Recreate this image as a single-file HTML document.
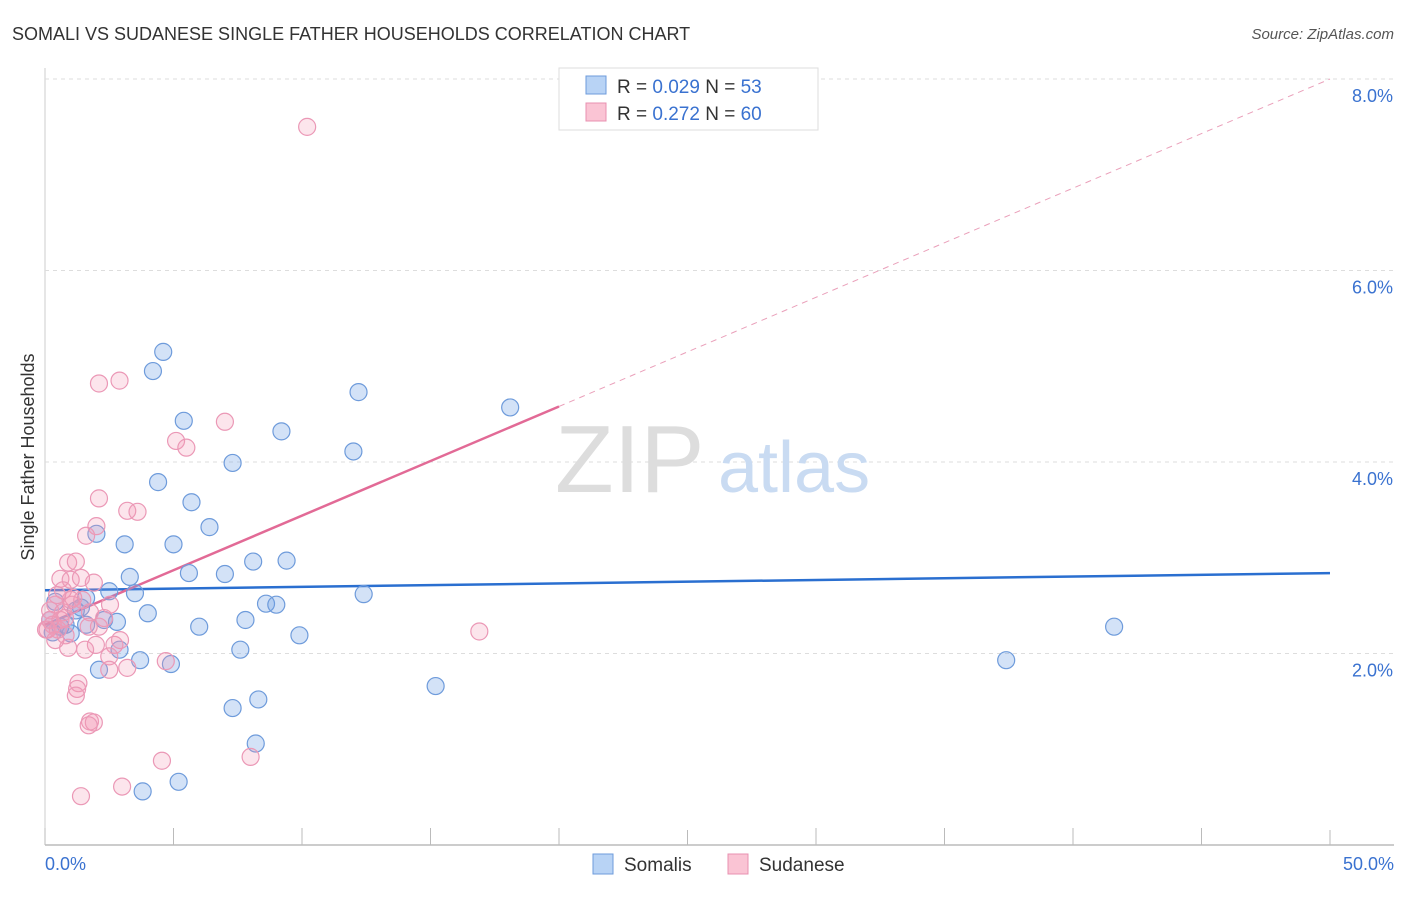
<!DOCTYPE html>
<html><head><meta charset="utf-8"><style>
body{margin:0;background:#fff;font-family:"Liberation Sans",sans-serif;}
svg text{font-family:"Liberation Sans",sans-serif;}
</style></head><body>
<svg width="1406" height="892" xmlns="http://www.w3.org/2000/svg" id="chart">
<text x="12" y="40" font-size="18" fill="#333">SOMALI VS SUDANESE SINGLE FATHER HOUSEHOLDS CORRELATION CHART</text>
<text x="1394" y="39" font-size="15" fill="#555" font-style="italic" text-anchor="end">Source: ZipAtlas.com</text>
<text x="34" y="457" font-size="18" fill="#333" text-anchor="middle" transform="rotate(-90 34 457)">Single Father Households</text>
<g id="grid"></g>
<g><text x="555" y="492" font-size="96" fill="#ddd" font-family="Liberation Serif,serif">ZIP</text><text x="718" y="492" font-size="72" fill="#c9dbf2">atlas</text></g>
<g id="trend"></g>
<g id="pts"></g>
<g>
<rect x="559" y="68" width="259" height="62" fill="#fff" stroke="#ddd"/>
<rect x="586" y="76" width="20" height="18" fill="#b8d3f5" stroke="#6e9bdb"/>
<rect x="586" y="103" width="20" height="18" fill="#fac4d4" stroke="#e890b0"/>
<text x="617" y="93" font-size="19" fill="#333">R = <tspan fill="#3a72d0">0.029</tspan>   N = <tspan fill="#3a72d0">53</tspan></text>
<text x="617" y="120" font-size="19" fill="#333">R = <tspan fill="#3a72d0"> 0.272</tspan>   N = <tspan fill="#3a72d0">60</tspan></text>
</g>
<g>
<rect x="593" y="854" width="20" height="20" fill="#b8d3f5" stroke="#6e9bdb"/>
<text x="624" y="871" font-size="19" fill="#333">Somalis</text>
<rect x="728" y="854" width="20" height="20" fill="#fac4d4" stroke="#e890b0"/>
<text x="759" y="871" font-size="19" fill="#333">Sudanese</text>
</g>
<text x="45" y="870" font-size="18" fill="#3a72d0">0.0%</text>
<text x="1394" y="870" font-size="18" fill="#3a72d0" text-anchor="end">50.0%</text>
</svg>
<script>
const yTicks=[2,4,6,8];
const blueX=[4.6,4.2,5.4,9.2,7.3,4.4,5.7,6.4,2.0,3.1,5.0,8.1,9.4,5.6,7.0,3.3,2.5,3.5,1.6,0.4,1.4,8.6,9.0,4.0,2.3,2.8,7.8,6.0,9.9,1.0,1.6,7.6,2.9,3.7,4.9,2.1,7.3,8.3,8.2,5.2,3.8,12.2,12.0,18.1,12.4,15.2,41.6,37.4,0.6,0.2,1.2,0.3,0.8];
const blueY=[5.15,4.95,4.43,4.32,3.99,3.79,3.58,3.32,3.25,3.14,3.14,2.96,2.97,2.84,2.83,2.80,2.65,2.63,2.58,2.54,2.48,2.52,2.51,2.42,2.35,2.33,2.35,2.28,2.19,2.21,2.30,2.04,2.04,1.93,1.89,1.83,1.43,1.52,1.06,0.66,0.56,4.73,4.11,4.57,2.62,1.66,2.28,1.93,2.28,2.35,2.45,2.22,2.30];
const pinkX=[10.2,2.9,2.1,7.0,5.1,5.5,2.1,3.2,3.6,2.0,1.6,0.9,1.2,0.6,1.0,1.9,1.4,0.7,1.1,0.4,0.7,0.2,0.1,0.3,0.5,0.8,1.05,1.75,2.3,2.1,1.7,2.7,1.98,0.9,2.5,3.2,2.5,4.7,16.9,1.3,1.25,1.2,1.75,1.9,1.7,4.55,8.0,3.0,1.4,0.04,0.4,0.6,1.0,0.2,0.47,1.45,2.53,0.78,1.56,2.92];
const pinkY=[7.50,4.85,4.82,4.42,4.22,4.15,3.62,3.49,3.48,3.33,3.23,2.95,2.96,2.78,2.77,2.74,2.79,2.66,2.58,2.51,2.43,2.35,2.25,2.30,2.25,2.19,2.51,2.43,2.37,2.28,2.28,2.09,2.09,2.06,1.97,1.85,1.83,1.92,2.23,1.69,1.63,1.56,1.29,1.28,1.25,0.88,0.92,0.61,0.51,2.25,2.14,2.35,2.56,2.45,2.61,2.56,2.51,2.37,2.04,2.14];
const blueTrend=[2.66,2.84];
const pinkTrend=[2.3,8.0];
const pinkSolidEnd=20;
const sx=v=>45+v*25.7, sy=v=>845-v*95.75;
const NS="http://www.w3.org/2000/svg";
function mk(t,a,p){const e=document.createElementNS(NS,t);for(const k in a)e.setAttribute(k,a[k]);p.appendChild(e);return e;}
const grid=document.getElementById('grid');
mk('line',{x1:45,y1:845,x2:1394,y2:845,stroke:'#bbb','stroke-width':1.5},grid);
mk('line',{x1:45,y1:68,x2:45,y2:845,stroke:'#ccc'},grid);
for(let i=0;i<=10;i++){const l=mk('line',{x1:sx(i*5),y1:845,x2:sx(i*5),y2:i%5==0&&i>0?830:828,stroke:'#bbb'},grid);

}
yTicks.forEach(v=>{const l=mk('line',{x1:45,y1:sy(v),x2:1394,y2:sy(v),stroke:'#ddd','stroke-dasharray':'4,4'},grid);


const t=mk('text',{x:1393,y:sy(v)+23,'font-size':18,fill:'#3a72d0','text-anchor':'end'},grid);t.textContent=v.toFixed(1)+'%';

});
const pts=document.getElementById('pts');
blueX.forEach((x,i)=>{const c=mk('circle',{cx:sx(x),cy:sy(blueY[i]),r:8.5,fill:'rgba(110,160,230,0.3)',stroke:'#6e9bdb','stroke-width':1.2},pts);

});
pinkX.forEach((x,i)=>{const c=mk('circle',{cx:sx(x),cy:sy(pinkY[i]),r:8.5,fill:'rgba(245,150,180,0.25)',stroke:'#eb98b6','stroke-width':1.2},pts);

});
const tr=document.getElementById('trend');
const pAt=x=>pinkTrend[0]+(pinkTrend[1]-pinkTrend[0])*x/50;
let l=mk('line',{x1:sx(0),y1:sy(blueTrend[0]),x2:sx(50),y2:sy(blueTrend[1]),stroke:'#2a6fd0','stroke-width':2.5},tr);


l=mk('line',{x1:sx(0),y1:sy(pAt(0)),x2:sx(pinkSolidEnd),y2:sy(pAt(pinkSolidEnd)),stroke:'#e26a96','stroke-width':2.5},tr);


l=mk('line',{x1:sx(pinkSolidEnd),y1:sy(pAt(pinkSolidEnd)),x2:sx(50),y2:sy(pAt(50)),stroke:'#eaa0ba','stroke-width':1,'stroke-dasharray':'6,5'},tr);


</script>
</body></html>
